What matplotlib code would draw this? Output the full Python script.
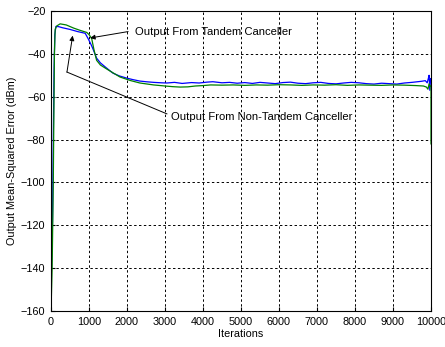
import matplotlib.pyplot as plt

# Non-tandem canceller (blue)
blue_x = [0, 20, 40, 60, 80, 100, 130, 200, 300, 400, 500, 600, 700, 800, 900,
          980, 1050, 1100, 1200, 1300, 1420, 1530, 1630, 1800, 1990, 2150, 2340,
          2500, 2700, 2900, 3050, 3250, 3450, 3700, 3900, 4100, 4260, 4500, 4700,
          4900, 5100, 5300, 5500, 5700, 5900, 6100, 6300, 6500, 6700, 6900, 7100,
          7300, 7500, 7700, 7900, 8100, 8300, 8500, 8700, 8900, 9100, 9300, 9500,
          9650, 9750, 9850, 9900, 9930, 9950, 9970, 9990, 10000]
blue_y = [-150, -132, -118, -80, -48, -31, -27.2, -27.3, -27.8, -28.2, -28.6,
          -29.1, -29.6, -30.0, -30.4, -33.0, -35.5, -37.5, -42.0, -44.2, -46.0,
          -47.6, -49.0, -50.3, -51.3, -52.0, -52.7, -53.0, -53.3, -53.5, -53.6,
          -53.3, -53.8, -53.4, -53.6, -53.2, -53.0, -53.5, -53.3, -53.7, -53.4,
          -53.8, -53.3, -53.6, -53.9, -53.4, -53.2, -53.7, -53.9, -53.5, -53.3,
          -53.8, -54.0, -53.6, -53.3, -53.5, -53.9, -54.1, -53.7, -53.9, -54.1,
          -53.6, -53.3, -53.0, -52.8, -52.5, -53.5, -51.5, -50.0, -57.0, -51.5,
          -52.5]

# Tandem canceller (green)
green_x = [0, 30, 60, 90, 110, 150, 240, 400, 600, 760, 940, 1000, 1070, 1130,
           1200, 1300, 1460, 1600, 1815, 2100, 2340, 2500, 2700, 3000, 3200,
           3400, 3600, 3800, 4000, 4200, 4500, 4800, 5100, 5400, 5700, 6000,
           6300, 6600, 6900, 7200, 7500, 7800, 8100, 8400, 8700, 9000, 9300,
           9600, 9800, 9880, 9920, 9950, 9980, 10000, 10000]
green_y = [-160, -140, -100, -40, -28.5, -27.0, -26.0, -26.5, -28.0, -29.0,
           -30.0, -31.0, -32.8, -38.0, -43.0, -45.2, -47.0, -48.5, -50.8, -52.5,
           -53.6, -54.0, -54.5, -55.0, -55.3, -55.5, -55.4, -55.0, -54.8, -54.5,
           -54.6, -54.5, -54.7, -54.5, -54.6, -54.4, -54.5, -54.7, -54.5, -54.6,
           -54.4, -54.7, -54.5, -54.6, -54.7, -54.5, -54.6, -54.8, -55.0, -55.5,
           -56.5, -54.0, -55.0, -55.0, -82.0]

fig = plt.figure(figsize=(4.45, 3.47), dpi=100)
ax = fig.add_axes([0.1146, 0.1037, 0.8539, 0.8646])

ax.plot(blue_x, blue_y, color='#0000ff', lw=0.9)
ax.plot(green_x, green_y, color='#008000', lw=0.9)

ax.set_xlim(0, 10000)
ax.set_ylim(-160, -20)
ax.set_xticks(range(0, 10001, 1000))
ax.set_yticks(range(-160, -19, 20))
ax.grid(True, color='k', linestyle=(0, (2.5, 2.5)), lw=0.7)
ax.tick_params(direction='in', labelsize=7.8, length=3, pad=4)
for lab in ax.get_xticklabels() + ax.get_yticklabels():
    lab.set_fontfamily('Liberation Sans')
for s in ax.spines.values():
    s.set_linewidth(0.8)

ax.set_xlabel('Iterations', fontsize=7.8, family='Liberation Sans', labelpad=2)
ax.set_ylabel('Output Mean-Squared Error (dBm)', fontsize=7.8,
              family='Liberation Sans', labelpad=3)

arrow = dict(arrowstyle='-|>', color='k', lw=0.7, mutation_scale=7,
             shrinkA=0, shrinkB=0)
ax.annotate('', xy=(1030, -32.6), xytext=(2030, -29.6), arrowprops=arrow)
ax.text(2210, -29.8, 'Output From Tandem Canceller', fontsize=8.1,
        family='Liberation Sans', va='center')

ax.plot([3050, 420], [-68.0, -48.5], color='k', lw=0.7)
ax.annotate('', xy=(570, -31.5), xytext=(420, -48.5), arrowprops=arrow)
ax.text(3160, -69.5, 'Output From Non-Tandem Canceller', fontsize=8.1,
        family='Liberation Sans', va='center')

fig.savefig('out.png', dpi=100)
